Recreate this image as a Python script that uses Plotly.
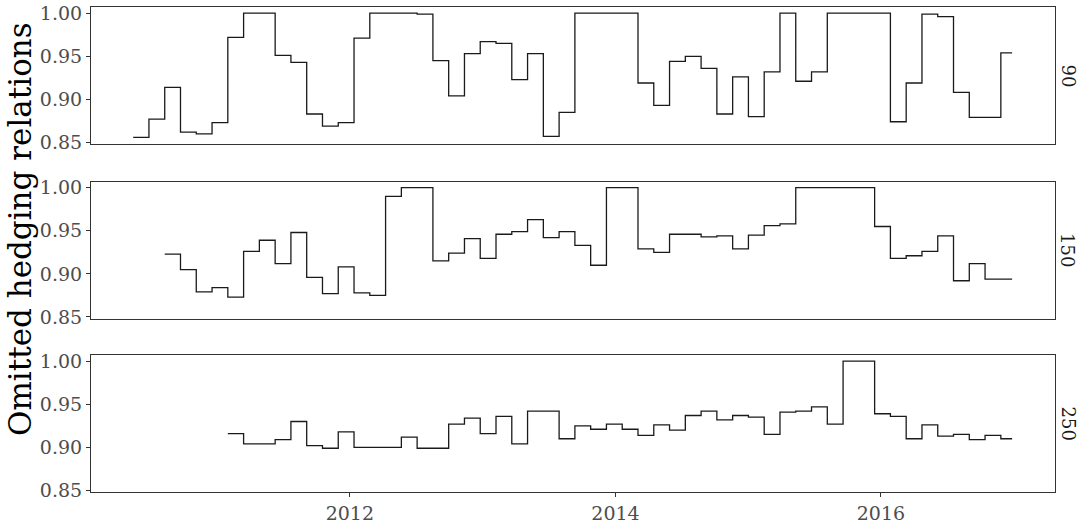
import pandas as pd
import plotly.graph_objects as go
from plotly.subplots import make_subplots

# observation grid (roughly every 30 trading days) and final date
obs_dates = list(pd.date_range(start="2010-05-15", end="2016-11-26", periods=56))
end_date = pd.Timestamp("2016-12-27")

panels = ["90", "150", "250"]
start_idx = {"90": 0, "150": 2, "250": 6}

vals_90 = [0.856, 0.877, 0.914, 0.862, 0.860, 0.873, 0.972, 1.000, 1.000, 0.951,
           0.943, 0.883, 0.869, 0.873, 0.971, 1.000, 1.000, 1.000, 0.999, 0.945,
           0.904, 0.953, 0.967, 0.965, 0.923, 0.953, 0.857, 0.885, 1.000, 1.000,
           1.000, 1.000, 0.919, 0.893, 0.944, 0.950, 0.936, 0.883, 0.926, 0.880,
           0.932, 1.000, 0.921, 0.932, 1.000, 1.000, 1.000, 1.000, 0.874, 0.919,
           0.999, 0.996, 0.908, 0.879, 0.879, 0.954]

vals_150 = [0.923, 0.905, 0.879, 0.884, 0.873, 0.926, 0.939, 0.912, 0.948, 0.896,
            0.877, 0.908, 0.878, 0.875, 0.990, 1.000, 1.000, 0.915, 0.924, 0.941,
            0.918, 0.946, 0.949, 0.963, 0.942, 0.949, 0.933, 0.910, 1.000, 1.000,
            0.929, 0.925, 0.946, 0.946, 0.943, 0.944, 0.929, 0.945, 0.956, 0.958,
            1.000, 1.000, 1.000, 1.000, 1.000, 0.955, 0.918, 0.921, 0.926, 0.944,
            0.892, 0.912, 0.894, 0.894]

vals_250 = [0.916, 0.904, 0.904, 0.909, 0.930, 0.902, 0.899, 0.918, 0.900, 0.900,
            0.900, 0.912, 0.899, 0.899, 0.927, 0.934, 0.916, 0.936, 0.904, 0.942,
            0.942, 0.910, 0.925, 0.921, 0.927, 0.921, 0.914, 0.926, 0.920, 0.937,
            0.942, 0.932, 0.937, 0.935, 0.915, 0.941, 0.942, 0.947, 0.927, 1.000,
            1.000, 0.939, 0.936, 0.910, 0.926, 0.913, 0.915, 0.909, 0.914, 0.910]

values = {"90": vals_90, "150": vals_150, "250": vals_250}

y_ticks = [0.85, 0.90, 0.95, 1.00]
y_ticktext = ["0.85", "0.90", "0.95", "1.00"]
x_ticks = ["2012-01-01", "2014-01-01", "2016-01-01"]
x_ticktext = ["2012", "2014", "2016"]
y_title = "Omitted hedging relations"

FONT = "DejaVu Serif"
FRAME = "#333333"

fig = make_subplots(rows=3, cols=1, shared_xaxes=True, vertical_spacing=0.05)

for i, p in enumerate(panels):
    s = start_idx[p]
    v = values[p]
    xs = obs_dates[s:s + len(v)] + [end_date]
    ys = v + [v[-1]]
    fig.add_trace(go.Scatter(x=xs, y=ys, mode="lines", line=dict(shape="hv", color="#1a1a1a", width=1.3),
                             showlegend=False, hoverinfo="skip"), row=i + 1, col=1)

H_AREA = 485.0
domains = [[(492 - 144) / H_AREA, 1.0],
           [(492 - 318.5) / H_AREA, (492 - 181.5) / H_AREA],
           [0.0, 137 / H_AREA]]

for i in range(3):
    xa = "xaxis" if i == 0 else f"xaxis{i+1}"
    ya = "yaxis" if i == 0 else f"yaxis{i+1}"
    bottom = (i == 2)
    fig.layout[xa].update(
        type="date", range=["2010-01-19", "2017-04-24"], showgrid=False, zeroline=False,
        showline=True, mirror=True, linecolor=FRAME, linewidth=1.1,
        tickvals=x_ticks, ticktext=x_ticktext, showticklabels=bottom,
        ticks="outside" if bottom else "", ticklen=4, tickcolor=FRAME, tickwidth=1.1,
        tickfont=dict(family=FONT, size=19, color="#4d4d4d"),
    )
    fig.layout[ya].update(
        domain=domains[i], range=[0.8482, 1.0072], showgrid=False, zeroline=False,
        showline=True, mirror=True, linecolor=FRAME, linewidth=1.1,
        tickvals=y_ticks, ticktext=y_ticktext, ticks="outside", ticklen=4,
        tickcolor=FRAME, tickwidth=1.1,
        tickfont=dict(family=FONT, size=19, color="#4d4d4d"),
    )
    fig.add_annotation(text=panels[i], xref="paper", yref="paper", x=1.0135,
                       y=(domains[i][0] + domains[i][1]) / 2, textangle=90,
                       showarrow=False, xanchor="center", yanchor="middle",
                       font=dict(family=FONT, size=18, color="#1a1a1a"))

fig.add_annotation(text=y_title, xref="paper", yref="paper", x=(20 - 91) / 964.0,
                   y=(492 - 229) / H_AREA,
                   textangle=-90, showarrow=False, xanchor="center", yanchor="middle",
                   font=dict(family=FONT, size=31, color="#000000"))

fig.update_layout(width=1090, height=530,
                  margin=dict(l=91, r=35, t=7, b=38, autoexpand=False),
                  plot_bgcolor="white", paper_bgcolor="white")

fig.write_html("out.html", config={"displayModeBar": False},
               post_script="document.body.style.margin='0px';")
